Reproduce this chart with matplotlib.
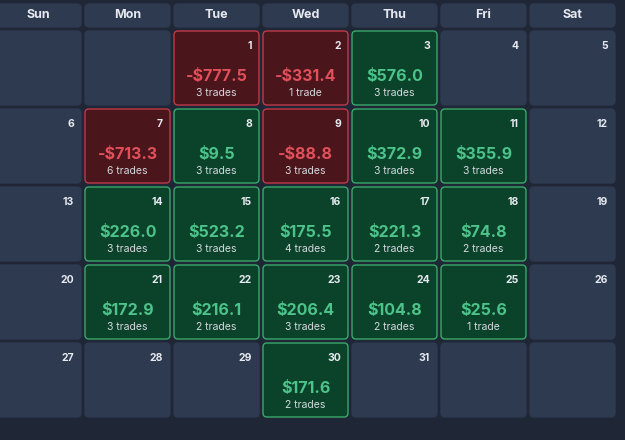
import matplotlib.pyplot as plt
from matplotlib.patches import FancyBboxPatch

days = ["Sun", "Mon", "Tue", "Wed", "Thu", "Fri", "Sat"]
first_weekday = 2  # month starts on Tue
n_days = 31
pnl = {1: -777.5, 2: -331.4, 3: 576.0, 7: -713.3, 8: 9.5, 9: -88.8, 10: 372.9,
       11: 355.9, 14: 226.0, 15: 523.2, 16: 175.5, 17: 221.3, 18: 74.8,
       21: 172.9, 22: 216.1, 23: 206.4, 24: 104.8, 25: 25.6, 30: 171.6}
trades = {1: 3, 2: 1, 3: 3, 7: 6, 8: 3, 9: 3, 10: 3, 11: 3, 14: 3, 15: 3, 16: 4,
          17: 2, 18: 2, 21: 3, 22: 2, 23: 3, 24: 2, 25: 1, 30: 2}

bg = "#1f2635"
empty = "#2d3a4f"
plt.rcParams["font.family"] = ["Inter", "DejaVu Sans"]

fig = plt.figure(figsize=(6.25, 4.4), dpi=100, facecolor=bg)
ax = fig.add_axes([0, 0, 1, 1])
ax.set_xlim(0, 625)
ax.set_ylim(440, 0)
ax.axis("off")

x0, pitch_x, w = -4, 89, 85
y_head, h_head = 4, 23
y0, pitch_y, h = 31, 78, 74


def box(x, y, bw, bh, fc, ec):
    ax.add_patch(FancyBboxPatch((x, y), bw, bh, boxstyle="round,pad=0,rounding_size=4",
                                fc=fc, ec=ec, lw=1))


for i, d in enumerate(days):
    x = x0 + i * pitch_x
    box(x, y_head, w, h_head, empty, empty)
    ax.text(x + w / 2, y_head + h_head / 2, d, color="#e6e9ef", fontsize=9,
            fontweight="bold", ha="center", va="center")

for cell in range(35):
    r, c = divmod(cell, 7)
    x = x0 + c * pitch_x
    y = y0 + r * pitch_y
    day = cell - first_weekday + 1
    if day in pnl:
        v = pnl[day]
        if v < 0:
            fc, ec, tc = "#4a151b", "#c0394a", "#e0505a"
            label = f"-${abs(v):.1f}"
        else:
            fc, ec, tc = "#0b432a", "#3aa86b", "#4cc38a"
            label = f"${v:.1f}"
        box(x, y, w, h, fc, ec)
        ax.text(x + w / 2, y + 45, label, color=tc, fontsize=11.5, fontweight="bold",
                ha="center", va="center")
        n = trades[day]
        ax.text(x + w / 2, y + 62, f"{n} trade" + ("s" if n != 1 else ""),
                color="#d4d8df", fontsize=7.5, ha="center", va="center")
    else:
        box(x, y, w, h, empty, empty)
    if 1 <= day <= n_days:
        ax.text(x + w - 7, y + 15, str(day), color="#e6e9ef", fontsize=7.5,
                fontweight="bold", ha="right", va="center")

fig.savefig("out.png", dpi=100, facecolor=bg)
